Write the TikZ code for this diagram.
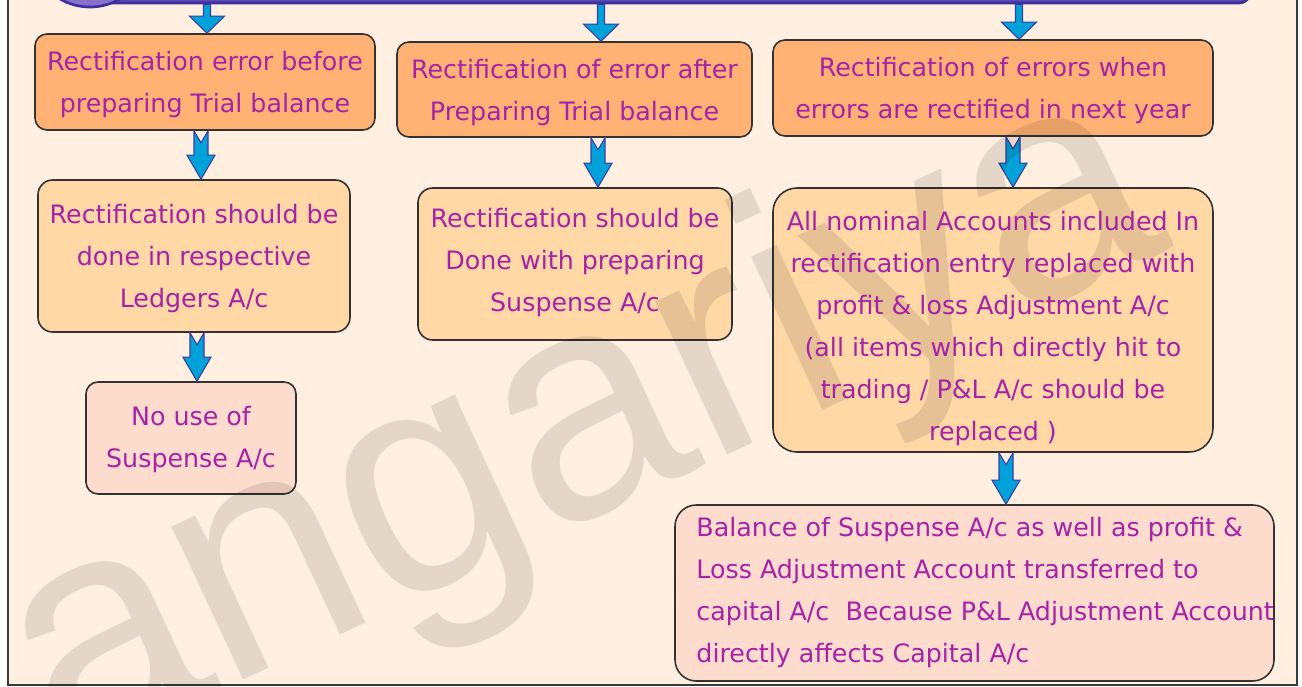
\documentclass[tikz,border=0pt]{standalone}
\usepackage{fontspec}
\setmainfont{DejaVu Sans}
\newfontfamily\wmfont{Liberation Sans}
\usetikzlibrary{calc}
\definecolor{pagebg}{HTML}{FEEFE0}
\definecolor{framecol}{HTML}{3A3A3A}
\definecolor{barfill}{HTML}{5A48B0}
\definecolor{barline}{HTML}{3F2E9E}
\definecolor{logofill}{HTML}{8472CC}
\definecolor{topbox}{HTML}{FFB273}
\definecolor{midbox}{HTML}{FFD8A6}
\definecolor{pinkbox}{HTML}{FDDCCD}
\definecolor{boxline}{HTML}{333333}
\definecolor{txtcol}{HTML}{A622A6}
\definecolor{arrfill}{HTML}{00A2D9}
\definecolor{arrline}{HTML}{3C3CA0}
\tikzset{
  boxsty/.style={draw=boxline, line width=1.2pt, inner sep=0pt},
  txtsty/.style={inner sep=0pt, align=center, text=txtcol,
    font=\fontsize{19}{31.5}\selectfont,
    execute at begin node=\strut, execute at end node=\strut},
  arrowsty/.style={draw=arrline, fill=arrfill, line width=0.8pt, line join=miter},
}
\newcommand{\notcharrow}[3]{%
  \draw[arrowsty] let \p1=(#1.south), \p2=($(#2.north)+(#3,0)$) in
    (\x2-5.25pt,\y1) -- (\x2,\y1-9pt) -- (\x2+5.25pt,\y1) -- (\x2+5.25pt,\y2+18pt)
    -- (\x2+10.5pt,\y2+18pt) -- (\x2,\y2) -- (\x2-10.5pt,\y2+18pt)
    -- (\x2-5.25pt,\y2+18pt) -- cycle;}
\newcommand{\toparrow}[3]{%
  \draw[arrowsty] let \p1=(#1.south), \p2=($(#2.north)+(#3,0)$) in
    (\x2-2.625pt,\y1) -- (\x2+2.625pt,\y1) -- (\x2+2.625pt,\y2+12.75pt)
    -- (\x2+13.125pt,\y2+12.75pt) -- (\x2,\y2) -- (\x2-13.125pt,\y2+12.75pt)
    -- (\x2-2.625pt,\y2+12.75pt) -- cycle;}
\begin{document}
\begin{tikzpicture}[x=0.75pt,y=-0.75pt]
\useasboundingbox (0,0) rectangle (1302,686);
\fill[white] (0,0) rectangle (1302,686);
\draw[draw=framecol, fill=pagebg, line width=0.9pt] (8,-10) rectangle (1297,685);

% top bar and logo circle
\node[draw=barline, fill=barfill, line width=2pt, rounded corners=8pt,
      minimum width=892.5pt, minimum height=34.5pt, inner sep=0pt] (bar) at (655,-20) {};
\node[circle, draw=barline, fill=logofill, line width=2pt, minimum size=90pt, inner sep=0pt] (logo) at (90,-53) {};

% boxes
\node[boxsty, fill=topbox, rounded corners=9pt, minimum width=255pt, minimum height=72pt] (b1) at (205,82) {};
\node[boxsty, fill=topbox, rounded corners=9pt, minimum width=266.25pt, minimum height=71.25pt] (b2) at (574.5,89.5) {};
\node[boxsty, fill=topbox, rounded corners=9pt, minimum width=330pt, minimum height=72pt] (b3) at (993,88) {};
\node[boxsty, fill=midbox, rounded corners=11pt, minimum width=234pt, minimum height=114pt] (b4) at (194,256) {};
\node[boxsty, fill=midbox, rounded corners=11pt, minimum width=235.5pt, minimum height=114pt] (b5) at (575,264) {};
\node[boxsty, fill=midbox, rounded corners=18pt, minimum width=330pt, minimum height=198pt] (b6) at (993,320) {};
\node[boxsty, fill=pinkbox, rounded corners=9pt, minimum width=157.5pt, minimum height=84pt] (b7) at (191,438) {};
\node[boxsty, fill=pinkbox, rounded corners=16pt, minimum width=449.25pt, minimum height=132pt] (b8) at (974.5,593) {};

% arrows
\toparrow{bar}{b1}{2}
\toparrow{bar}{b2}{26.5}
\toparrow{bar}{b3}{26}
\notcharrow{b1}{b4}{7}
\notcharrow{b4}{b7}{6}
\notcharrow{b2}{b5}{23}
\notcharrow{b3}{b6}{20}
\notcharrow{b6}{b8}{31.5}

% watermark
\begin{scope}
\clip (0,0) rectangle (1302,686);
\node[opacity=0.1, text=black, inner sep=0pt, anchor=base west, rotate=25,
      font=\wmfont\fontsize{240}{250}\selectfont] (wm) at (62,765) {angariya};
\end{scope}

% texts
\node[txtsty] (t1) at ($(b1.center)+(0,6)$) {Rectification error before\\preparing Trial balance};
\node[txtsty] (t2) at ($(b2.center)+(0,7)$) {Rectification of error after\\Preparing Trial balance};
\node[txtsty] (t3) at ($(b3.center)+(0,6)$) {Rectification of errors when\\errors are rectified in next year};
\node[txtsty] (t4) at ($(b4.center)+(0,6)$) {Rectification should be\\done in respective\\Ledgers A/c};
\node[txtsty] (t5) at ($(b5.center)+(0,2)$) {Rectification should be\\Done with preparing\\Suspense A/c};
\node[txtsty] (t6) at ($(b6.center)+(0,12)$) {All nominal Accounts included In\\rectification entry replaced with\\profit \& loss Adjustment A/c\\(all items which directly hit to\\trading / P\&L A/c should be\\replaced )};
\node[txtsty] (t7) at ($(b7.center)+(0,5)$) {No use of\\Suspense A/c};
\node[txtsty, align=left, anchor=west] (t8) at ($(b8.west)+(22,3)$) {Balance of Suspense A/c as well as profit \&\\Loss Adjustment Account transferred to\\capital A/c\ \ Because P\&L Adjustment Account\\directly affects Capital A/c};
\end{tikzpicture}
\end{document}
